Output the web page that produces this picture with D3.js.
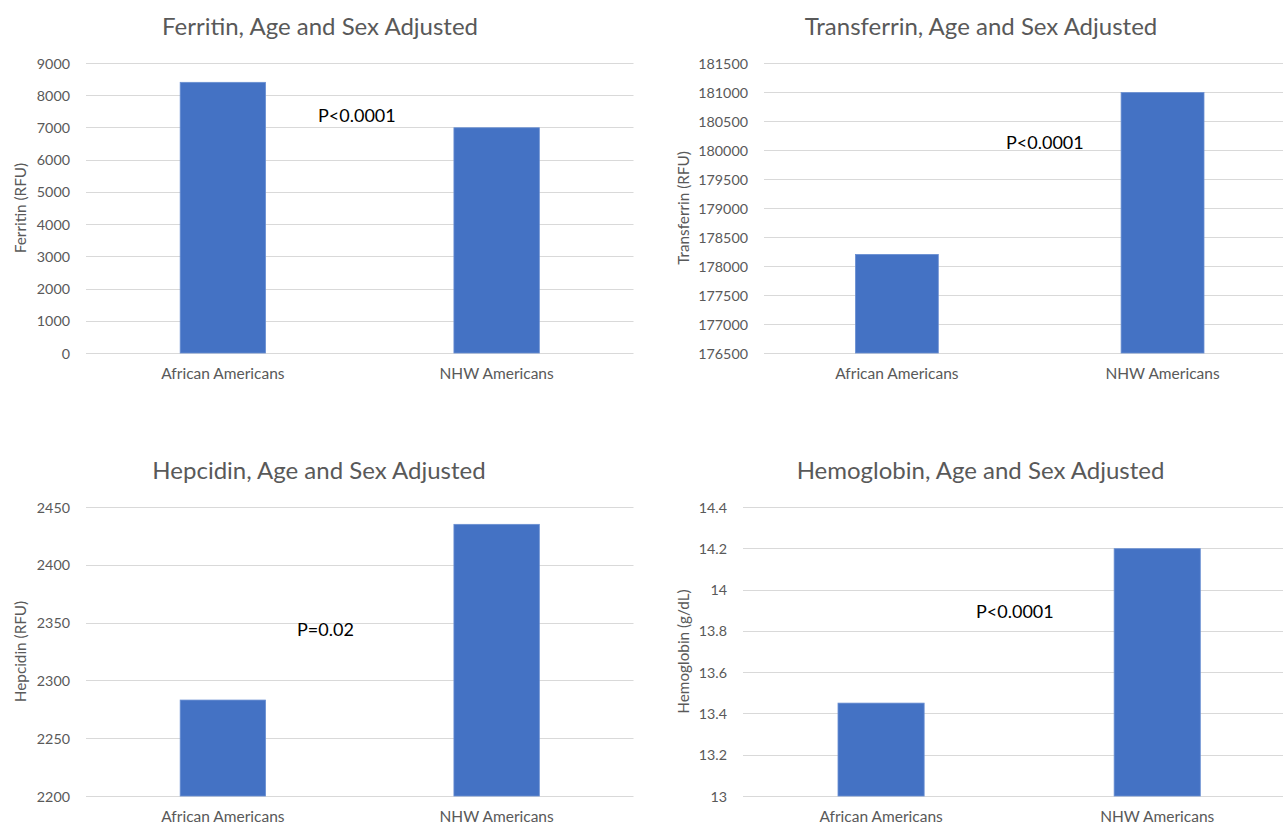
<!DOCTYPE html>
<html>
<head>
<meta charset="utf-8">
<script src="https://cdn.jsdelivr.net/npm/d3@7"></script>
<style>
  html, body { margin: 0; padding: 0; background: #ffffff; }
  svg { display: block; font-family: Lato, "Open Sans", sans-serif; }
</style>
</head>
<body>
<svg id="chart" width="1283" height="825"></svg>
<script>
// ---- data ----
const categories = ["African Americans", "NHW Americans"];

const ferritinValues    = [8400, 6990];
const transferrinValues = [178200, 180990];
const hepcidinValues    = [2283, 2435];
const hemoglobinValues  = [13.45, 14.198];

const ferritinTicks    = [0, 1000, 2000, 3000, 4000, 5000, 6000, 7000, 8000, 9000];
const transferrinTicks = [176500, 177000, 177500, 178000, 178500, 179000, 179500, 180000, 180500, 181000, 181500];
const hepcidinTicks    = [2200, 2250, 2300, 2350, 2400, 2450];
const hemoglobinTicks  = [13, 13.2, 13.4, 13.6, 13.8, 14, 14.2, 14.4];

const titles  = ["Ferritin, Age and Sex Adjusted", "Transferrin, Age and Sex Adjusted",
                 "Hepcidin, Age and Sex Adjusted", "Hemoglobin, Age and Sex Adjusted"];
const yTitles = ["Ferritin (RFU)", "Transferrin (RFU)", "Hepcidin (RFU)", "Hemoglobin (g/dL)"];
const pLabels = ["P<0.0001", "P<0.0001", "P=0.02", "P<0.0001"];

// ---- layout ----
const panels = [
  { values: ferritinValues,    ticks: ferritinTicks,    left: 86,  right: 633.5,  top: 63,  bottom: 353, titleX: 320,   titleY: 25,  yTitleX: 20,  pX: 318,  pY: 115 },
  { values: transferrinValues, ticks: transferrinTicks, left: 764, right: 1295.4, top: 63,  bottom: 353, titleX: 981,   titleY: 25,  yTitleX: 683, pX: 1006, pY: 142 },
  { values: hepcidinValues,    ticks: hepcidinTicks,    left: 86,  right: 633.5,  top: 507, bottom: 796, titleX: 319,   titleY: 469, yTitleX: 20,  pX: 297,  pY: 629 },
  { values: hemoglobinValues,  ticks: hemoglobinTicks,  left: 743, right: 1295.3, top: 507, bottom: 796, titleX: 980.5, titleY: 469, yTitleX: 683, pX: 976,  pY: 611 }
];

const svg = d3.select("#chart");
const textGray = "#595959";
const gridColor = "#d9d9d9";
const barColor = "#4472c4";

panels.forEach((p, i) => {
  const g = svg.append("g");
  const x = d3.scaleBand().domain(categories).range([p.left, p.right]).padding(0);
  const y = d3.scaleLinear().domain(d3.extent(p.ticks)).range([p.bottom, p.top]);
  const barW = x.bandwidth() * 0.312;

  // gridlines
  g.append("g").selectAll("line").data(p.ticks).join("line")
    .attr("x1", p.left).attr("x2", p.right)
    .attr("y1", d => Math.round(y(d)) + 0.5).attr("y2", d => Math.round(y(d)) + 0.5)
    .attr("stroke", gridColor).attr("stroke-width", 1);

  // y tick labels
  g.append("g").selectAll("text").data(p.ticks).join("text")
    .attr("x", p.left - 16).attr("y", d => y(d))
    .attr("text-anchor", "end").attr("dominant-baseline", "central")
    .attr("fill", textGray).attr("font-size", 14.3)
    .text(d => String(d));

  // bars
  g.append("g").selectAll("rect").data(categories).join("rect")
    .attr("x", (c) => x(c) + x.bandwidth() / 2 - barW / 2)
    .attr("width", barW)
    .attr("y", (c, j) => y(p.values[j]))
    .attr("height", (c, j) => y(p.ticks[0]) - y(p.values[j]))
    .attr("fill", barColor)
    .attr("stroke", "#6a8fd2").attr("stroke-width", 0.8);

  // x labels
  g.append("g").selectAll("text").data(categories).join("text")
    .attr("x", c => x(c) + x.bandwidth() / 2).attr("y", p.bottom + 26)
    .attr("text-anchor", "middle")
    .attr("fill", textGray).attr("font-size", 15.5)
    .text(c => c);

  // title
  g.append("text")
    .attr("x", p.titleX).attr("y", p.titleY)
    .attr("text-anchor", "middle").attr("dominant-baseline", "central")
    .attr("fill", textGray).attr("font-size", 24)
    .text(titles[i]);

  // y axis title
  g.append("text")
    .attr("transform", `translate(${p.yTitleX},${(p.top + p.bottom) / 2}) rotate(-90)`)
    .attr("text-anchor", "middle").attr("dominant-baseline", "central")
    .attr("fill", textGray).attr("font-size", 15.3)
    .text(yTitles[i]);

  // p-value annotation
  g.append("text")
    .attr("x", p.pX).attr("y", p.pY)
    .attr("text-anchor", "start").attr("dominant-baseline", "central")
    .attr("fill", "#000000").attr("font-size", 18)
    .text(pLabels[i]);
});
</script>
</body>
</html>
